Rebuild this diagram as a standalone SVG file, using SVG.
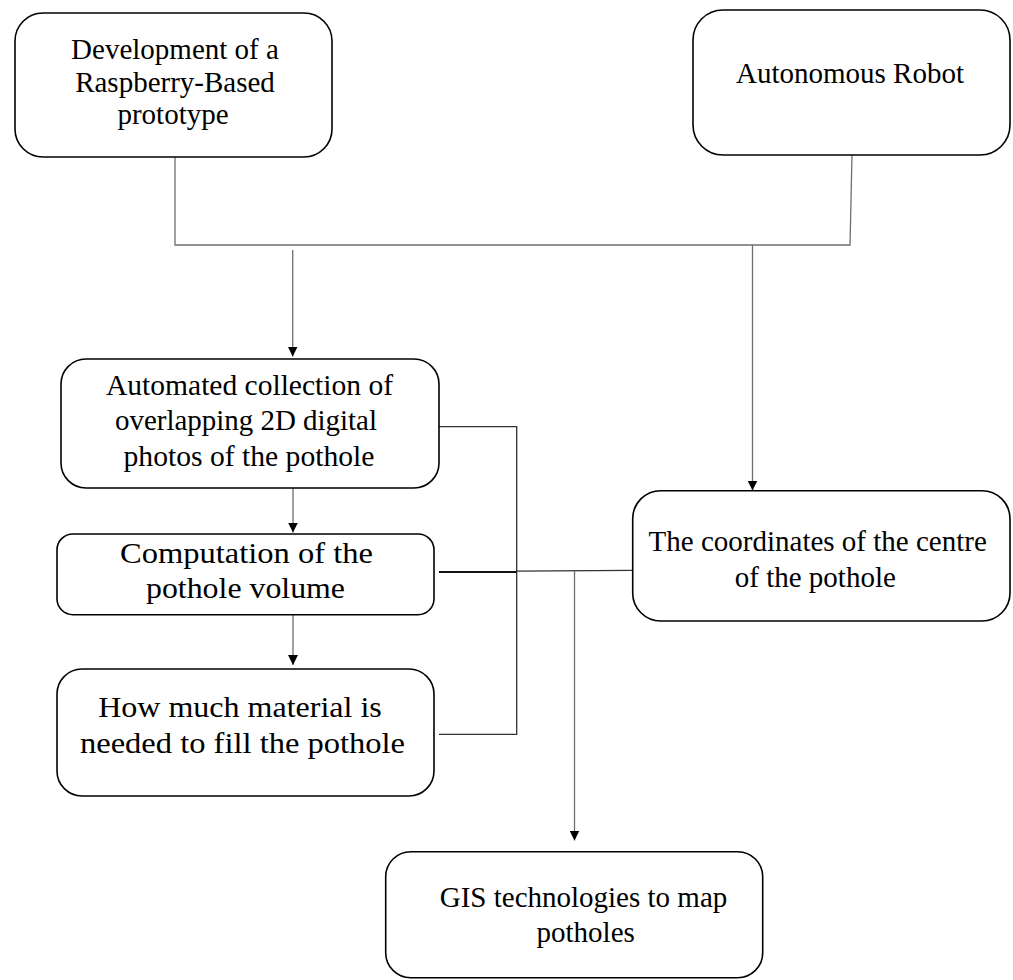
<svg xmlns="http://www.w3.org/2000/svg" width="1013" height="980" viewBox="0 0 1013 980">
<style>
.box{fill:#fff;stroke:#000;stroke-width:1.6}
.t{font-family:"Liberation Serif","Times New Roman",serif;font-size:29px;fill:#000;text-anchor:middle}
.p{font-family:"Liberation Serif","Times New Roman",serif;font-size:30px;fill:#000;text-anchor:middle}
.c{fill:none;stroke:#6e6e6e;stroke-width:1.3}
.d{fill:none;stroke:#333;stroke-width:1.3}
</style>
<defs>
<marker id="ah" viewBox="0 0 10 10" refX="10" refY="5" markerWidth="10" markerHeight="10" markerUnits="userSpaceOnUse" orient="auto">
<path d="M0,0 L10,5 L0,10 Z" fill="#000"/>
</marker>
</defs>
<rect width="1013" height="980" fill="#fff"/>
<g id="connectors">
<path class="c" d="M175,157 V245 H850 L852,155"/>
<path class="c" d="M292.7,250 V356.5" marker-end="url(#ah)"/>
<path class="c" d="M752.5,245 V490.5" marker-end="url(#ah)"/>
<path class="d" d="M439,426.7 H516.7 V734.3 H439"/>
<path class="c" d="M293,488 V532.5" marker-end="url(#ah)"/>
<path class="c" d="M293,614.7 V665" marker-end="url(#ah)"/>
<path fill="none" stroke="#111" stroke-width="2.2" d="M439,572 H516.7"/>
<path class="d" d="M516.7,571.2 L633,570.4"/>
<path class="c" d="M574.5,571 V840.5" marker-end="url(#ah)"/>
</g>
<g id="n1">
<rect class="box" x="15" y="13" width="317" height="144" rx="28"/>
<text class="t" x="175" y="59">Development of a</text>
<text class="t" x="175" y="92">Raspberry-Based</text>
<text class="t" x="173" y="124">prototype</text>
</g>
<g id="n2">
<rect class="box" x="693" y="10" width="317" height="145" rx="30"/>
<text class="t" x="850" y="83">Autonomous Robot</text>
</g>
<g id="n3">
<rect class="box" x="61" y="359" width="378" height="129" rx="25"/>
<text class="p" x="249.5" y="395" textLength="287" lengthAdjust="spacingAndGlyphs">Automated collection of</text>
<text class="p" x="246" y="430" textLength="262" lengthAdjust="spacingAndGlyphs">overlapping 2D digital</text>
<text class="p" x="249" y="465.7" textLength="251" lengthAdjust="spacingAndGlyphs">photos of the pothole</text>
</g>
<g id="n4">
<rect class="box" x="57" y="534" width="377" height="80.7" rx="16"/>
<text class="p" x="246.5" y="562.7" textLength="253" lengthAdjust="spacingAndGlyphs">Computation of the</text>
<text class="p" x="245.5" y="598" textLength="199" lengthAdjust="spacingAndGlyphs">pothole volume</text>
</g>
<g id="n5">
<rect class="box" x="57" y="669" width="377" height="127" rx="25"/>
<text class="p" x="240" y="716.7" textLength="283.7" lengthAdjust="spacingAndGlyphs">How much material is</text>
<text class="p" x="242.5" y="753" textLength="325" lengthAdjust="spacingAndGlyphs">needed to fill the pothole</text>
</g>
<g id="n6">
<rect class="box" x="632.7" y="490.7" width="377.3" height="130.3" rx="28"/>
<text class="t" x="817.7" y="551">The coordinates of the centre</text>
<text class="t" x="815.3" y="586.7">of the pothole</text>
</g>
<g id="n7">
<rect class="box" x="385.7" y="851.7" width="377" height="126" rx="25"/>
<text class="t" x="583.5" y="906.7">GIS technologies to map</text>
<text class="t" x="585.7" y="941.7">potholes</text>
</g>
</svg>
